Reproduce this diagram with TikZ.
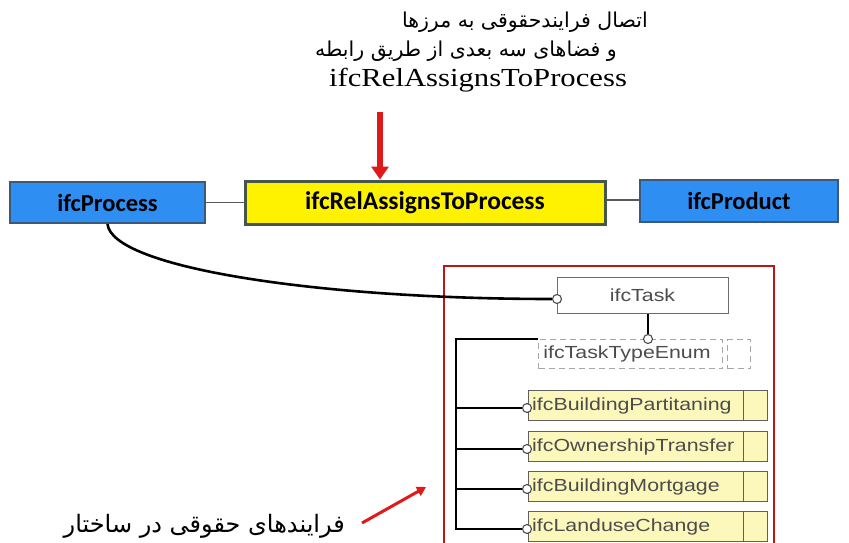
\documentclass[tikz,border=0pt]{standalone}
\usepackage{fontspec}
\setmainfont{Liberation Serif}
\newfontfamily\arabicfont[Script=Arabic]{DejaVu Sans}
\newfontfamily\boxfont{Carlito}
\newfontfamily\umlfont[FakeStretch=1.22]{Liberation Sans}
\newfontfamily\titlefont[FakeStretch=1.18]{Liberation Serif}
\TeXXeTstate=1
\usetikzlibrary{arrows.meta}
\definecolor{bluefill}{HTML}{2E8EF2}
\definecolor{bluebd}{HTML}{3C5A78}
\definecolor{yelbd}{HTML}{46564A}
\definecolor{attrfill}{HTML}{FCF8BC}
\definecolor{umlgray}{HTML}{4C4C4C}
\definecolor{arrred}{HTML}{E01A1A}
\definecolor{framered}{HTML}{B81818}
\tikzset{
  x=1pt, y=-1pt,
  bluebox/.style={draw=bluebd, line width=2pt, fill=bluefill, inner sep=0pt,
    font=\boxfont\bfseries\fontsize{24.5}{28}\selectfont},
  yellowbox/.style={draw=yelbd, line width=3pt, fill=yellow, inner sep=0pt,
    font=\boxfont\bfseries\fontsize{25.5}{28}\selectfont},
  link/.style={draw=gray!70!black, line width=1.5pt},
  redarrow/.style={draw=arrred, line width=5.5pt, -{Triangle[width=17pt,length=13pt]}},
  redarrowsm/.style={draw=arrred, line width=3pt, -{Triangle[width=10pt,length=9pt]}},
  umlbox/.style={draw=gray!85!black, line width=1pt, fill=white, inner sep=0pt,
    text=umlgray, font=\umlfont\fontsize{17.5}{20}\selectfont},
  enumbox/.style={draw=gray!70, dashed, dash pattern=on 6pt off 4pt, line width=1.2pt, inner sep=0pt},
  attrbox/.style={draw=gray!75!black, line width=1pt, fill=attrfill, inner sep=0pt},
  attrtext/.style={text=umlgray, font=\umlfont\fontsize{17.5}{20}\selectfont, inner sep=0pt, anchor=west},
  port/.style={circle, draw=umlgray, line width=1.1pt, fill=white, minimum size=9pt, inner sep=0pt},
  bus/.style={draw=black, line width=1.3pt},
  artext/.style={font=\arabicfont\fontsize{20.5}{24}\selectfont, inner sep=0pt}
}
\begin{document}
\begin{tikzpicture}
\useasboundingbox (0,0) rectangle (849,543);
% title
\node[artext, anchor=east] (t1) at (648,22) {\beginR اتصال فرایندحقوقی به مرزها\endR};
\node[artext, anchor=east] (t2) at (617,51) {\beginR و فضاهای سه بعدی از طریق رابطه\endR};
\node[inner sep=0pt, font=\titlefont\fontsize{26}{30}\selectfont] (t3) at (478,80) {ifcRelAssignsToProcess};
% main row
\node[bluebox, minimum width=195pt, minimum height=41pt] (proc) at (107.5,202.5) {ifcProcess};
\node[yellowbox, minimum width=360pt, minimum height=43pt] (rel) at (425,202.5) {ifcRelAssignsToProcess};
\node[bluebox, minimum width=198pt, minimum height=42pt] (prod) at (739,201) {ifcProduct};
\draw[link] (proc.east) -- (rel.west);
\draw[link] (rel.east |- 0,200) -- (prod.west |- 0,200);
\coordinate (arrtop) at (380,112);
\draw[redarrow] (arrtop) -- (rel.north -| arrtop);
% frame
\node[draw=framered, line width=1.6pt, minimum width=330pt, minimum height=290pt, inner sep=0pt, anchor=north west] (frame) at (443,265) {};
% ifcTask
\node[umlbox, minimum width=171pt, minimum height=36pt] (task) at (642.5,295) {ifcTask};
\node[port] (taskport) at (557,299) {};
\draw[black, line width=2.6pt] (proc.south) .. controls (112,268) and (320,299) .. (taskport.west);
% enum
\node[enumbox, minimum width=184pt, minimum height=29pt, anchor=north west] (enum) at (538,339) {};
\node[enumbox, minimum width=23pt, minimum height=29pt, anchor=north west] (enumx) at (727,339) {};
\node[text=umlgray, font=\umlfont\fontsize{17.5}{20}\selectfont, inner sep=0pt] (enumt) at (627,354) {ifcTaskTypeEnum};
\node[port] (enumport) at (648,339) {};
\draw[black, line width=1.3pt] (task.south -| enumport) -- (enumport.north);
% attribute boxes
\foreach \n/\y/\t in {a1/405/ifcBuildingPartitaning, a2/446/ifcOwnershipTransfer, a3/486/ifcBuildingMortgage, a4/526/ifcLanduseChange}{
  \node[attrbox, minimum width=215pt, minimum height=30pt, anchor=west] (\n) at (528,\y) {};
  \node[attrbox, minimum width=24pt, minimum height=30pt, anchor=west] (\n x) at (743,\y) {};
  \node[port] (\n p) at (527,\y+3) {};
  \node[attrtext] (\n t) at (532,\y+1) {\t};
}
\coordinate (busc) at (456,339);
\draw[bus] (enum.north west) -- (busc) |- (a4p.west);
\draw[bus] (busc |- a1p) -- (a1p.west);
\draw[bus] (busc |- a2p) -- (a2p.west);
\draw[bus] (busc |- a3p) -- (a3p.west);
% bottom note
\node[artext, anchor=east, font=\arabicfont\fontsize{24}{28}\selectfont] (note) at (345,526) {\beginR فرایندهای حقوقی در ساختار\endR};
\coordinate (nstart) at (362,523);
\coordinate (nend) at (426,487);
\draw[redarrowsm] (nstart) -- (nend);
\end{tikzpicture}
\end{document}
